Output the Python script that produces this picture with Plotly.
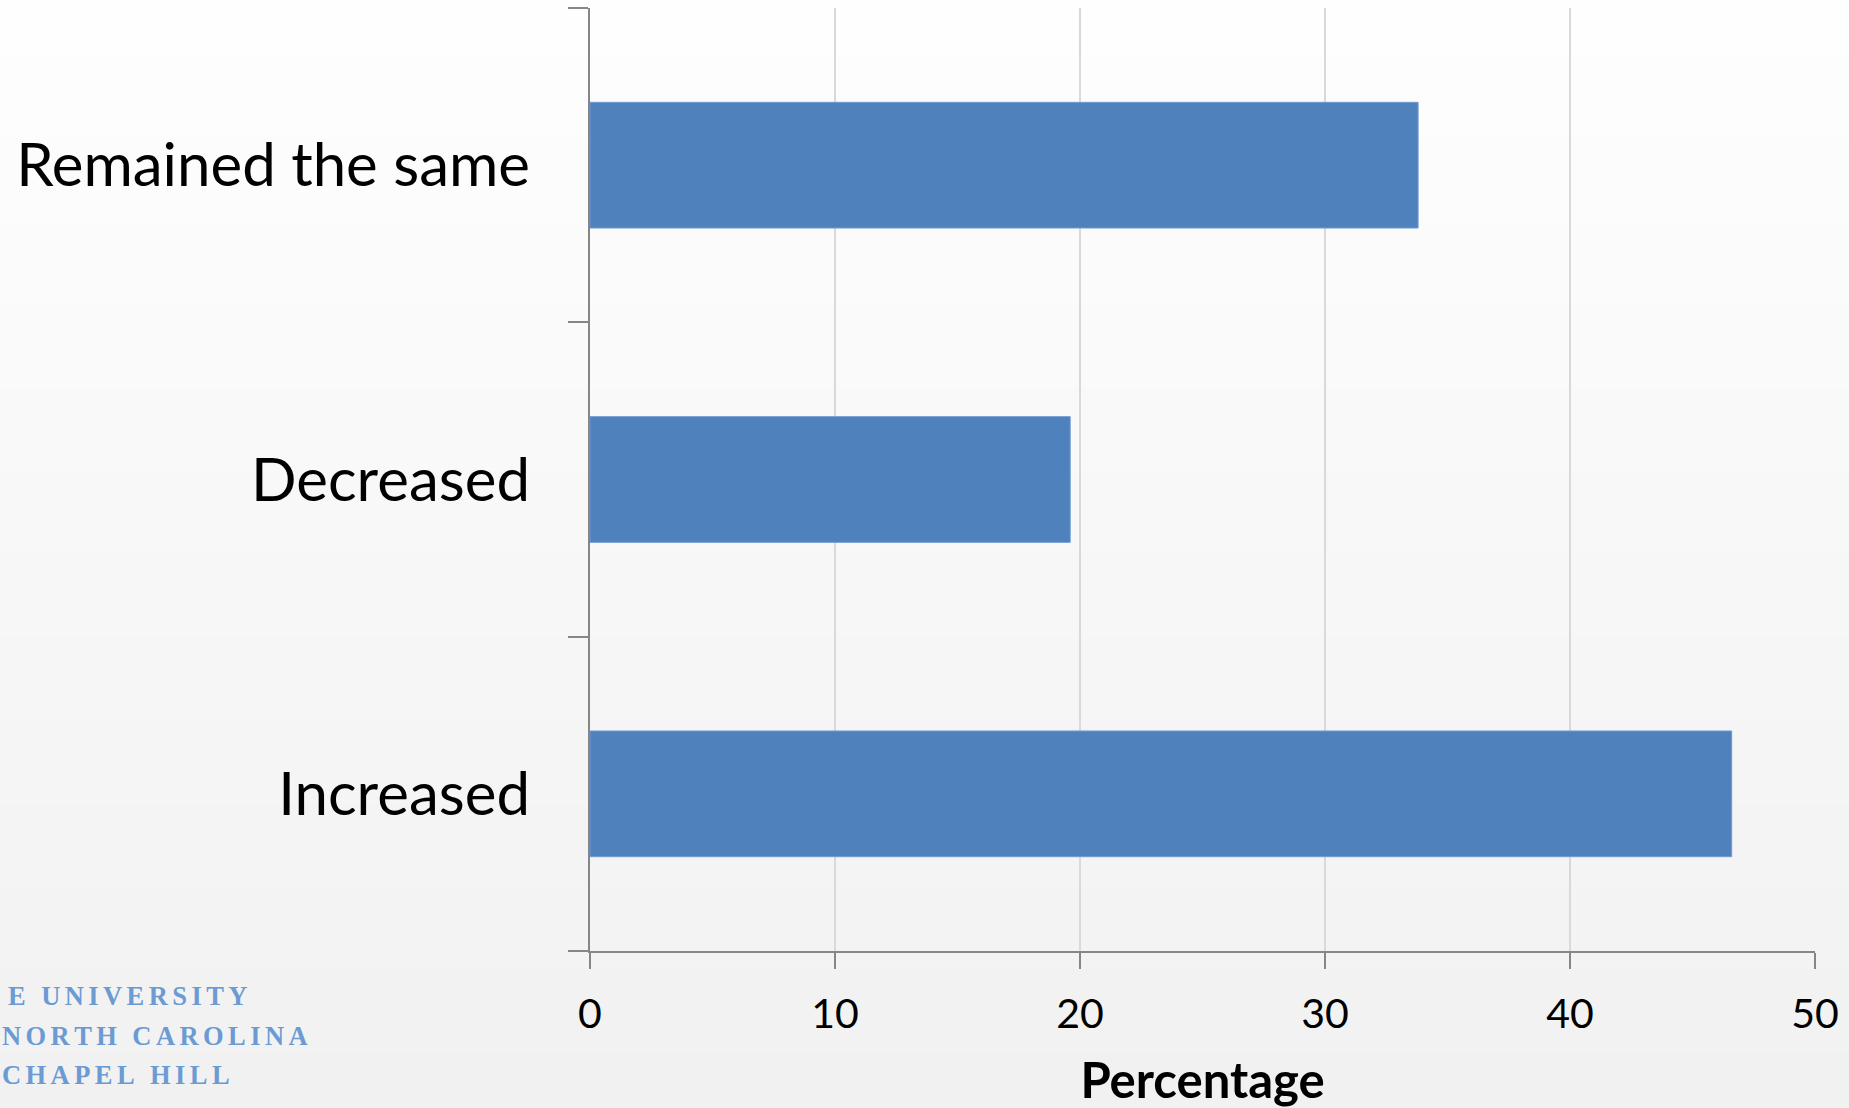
import plotly.graph_objects as go

categories = ["Increased", "Decreased", "Remained the same"]
percentages = [46.6, 19.6, 33.8]
x_ticks = [0, 10, 20, 30, 40, 50]
logo_lines = ["E UNIVERSITY", "NORTH CAROLINA", "CHAPEL HILL"]

W, H = 1849, 1108
L, R, T, B = 590, 34, 8, 157
PW, PH = W - L - R, H - T - B

fig = go.Figure()
fig.add_trace(go.Bar(
    y=categories, x=percentages, orientation="h",
    marker=dict(color="#4f81bd", line=dict(color="#6f9bd3", width=1)),
    width=0.4,
))

font_family = "Lato, 'Open Sans', sans-serif"

# background vertical gradient (near-white top to slightly gray bottom)
n = 40
top_c, bot_c = (254, 254, 254), (241, 241, 241)
shapes = []
for i in range(n):
    f = i / (n - 1)
    c = tuple(round(top_c[k] + (bot_c[k] - top_c[k]) * f) for k in range(3))
    ytop = H * i / n
    ybot = H * (i + 1) / n + 1
    shapes.append(dict(
        type="rect", xref="paper", yref="paper", layer="below",
        x0=-L / PW, x1=1 + R / PW,
        y0=(H - B - ybot) / PH, y1=(H - B - ytop) / PH,
        fillcolor="rgb(%d,%d,%d)" % c, line=dict(width=0),
    ))

fig.update_layout(
    width=W, height=H,
    margin=dict(l=L, r=R, t=T, b=B, autoexpand=False),
    paper_bgcolor="#f8f8f8",
    plot_bgcolor="rgba(0,0,0,0)",
    showlegend=False,
    shapes=shapes,
    font=dict(family=font_family, color="#000000"),
    xaxis=dict(
        range=[0, 50], tickvals=x_ticks, ticktext=[str(v) for v in x_ticks],
        showgrid=True, gridcolor="#d9d9d9", gridwidth=1.5,
        showline=True, linecolor="#868686", linewidth=2,
        ticks="outside", ticklen=16, tickcolor="#868686", tickwidth=2,
        zeroline=False,
        tickfont=dict(size=41, family=font_family),
        ticklabelstandoff=10,
        title=dict(text="<b>Percentage</b>", font=dict(size=49, family=font_family), standoff=31),
    ),
    yaxis=dict(
        type="category", categoryorder="array", categoryarray=categories,
        range=[-0.5, 2.5],
        showgrid=False,
        showline=True, linecolor="#868686", linewidth=2,
        ticks="outside", ticklen=20, tickcolor="#868686", tickwidth=2,
        tickson="boundaries",
        tickfont=dict(size=60, family=font_family),
        ticklabelstandoff=46,
    ),
)

hs = "\u200a\u200a"
ys = [996, 1036, 1075]
xs = [6, 0, 0]
for txt, yp, xp in zip(logo_lines, ys, xs):
    spaced = hs.join(list(txt))
    fig.add_annotation(
        text="<b>" + spaced + "</b>", xref="paper", yref="paper",
        x=(xp - L) / PW, y=1 - (yp - T) / PH,
        xanchor="left", yanchor="middle", showarrow=False,
        font=dict(family="'Liberation Serif', serif", size=26.5, color="#6b9bd2"),
    )

fig.write_html("out.html")
